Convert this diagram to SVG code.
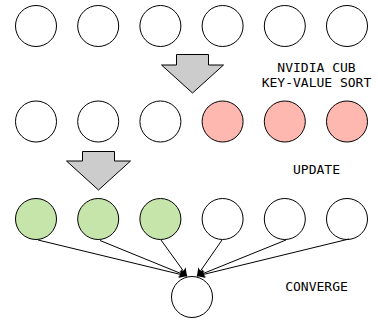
<svg xmlns="http://www.w3.org/2000/svg" width="378" height="322" viewBox="0 0 378 322">
<style>
.n{stroke:#000;stroke-width:1;fill:#fff}
.p{fill:#ffb8b0}
.g{fill:#c6e5ab}
.blk{fill:#cccccc;stroke:#000;stroke-width:1}
.t{font-family:"DejaVu Sans Mono",monospace;font-size:13px;fill:#000;text-anchor:middle}
.e{stroke:#000;stroke-width:1;fill:none;marker-end:url(#ah)}
</style>
<defs>
<marker id="ah" viewBox="0 0 10 10" refX="10" refY="5" markerWidth="9" markerHeight="8" markerUnits="userSpaceOnUse" orient="auto">
<path d="M0,0 L10,5 L0,10 L2.5,5 z" fill="#000"/>
</marker>
</defs>
<rect width="378" height="322" fill="#fff"/>
<g id="row1">
<circle id="a1" class="n" cx="36" cy="26" r="20.5"/>
<circle id="a2" class="n" cx="98.2" cy="26" r="20.5"/>
<circle id="a3" class="n" cx="160.4" cy="26" r="20.5"/>
<circle id="a4" class="n" cx="222.6" cy="26" r="20.5"/>
<circle id="a5" class="n" cx="284.8" cy="26" r="20.5"/>
<circle id="a6" class="n" cx="347" cy="26" r="20.5"/>
</g>
<g id="row2">
<circle id="b1" class="n" cx="36" cy="121.5" r="20.5"/>
<circle id="b2" class="n" cx="98.2" cy="121.5" r="20.5"/>
<circle id="b3" class="n" cx="160.4" cy="121.5" r="20.5"/>
<circle id="b4" class="n p" cx="222.6" cy="121.5" r="20.5"/>
<circle id="b5" class="n p" cx="284.8" cy="121.5" r="20.5"/>
<circle id="b6" class="n p" cx="347" cy="121.5" r="20.5"/>
</g>
<g id="row3">
<circle id="c1" class="n g" cx="36" cy="219" r="20.5"/>
<circle id="c2" class="n g" cx="98.2" cy="219" r="20.5"/>
<circle id="c3" class="n g" cx="160.4" cy="219" r="20.5"/>
<circle id="c4" class="n" cx="222.6" cy="219" r="20.5"/>
<circle id="c5" class="n" cx="284.8" cy="219" r="20.5"/>
<circle id="c6" class="n" cx="347" cy="219" r="20.5"/>
</g>
<g id="result">
<circle id="d1" class="n" cx="192" cy="297" r="20.5"/>
</g>
<g id="sort-arrow">
<polygon class="blk" points="176.5,54.5 208.5,54.5 208.5,65 223.5,65 192.5,93 161.5,65 176.5,65"/>
</g>
<g id="update-arrow">
<polygon class="blk" points="82.5,151.5 114.5,151.5 114.5,161 130.5,161 98.5,190 66.5,161 82.5,161"/>
</g>
<g id="connectors">
<line class="e" x1="38" y1="240" x2="187" y2="276"/>
<line class="e" x1="100" y1="240.5" x2="187" y2="276"/>
<line class="e" x1="161" y1="240" x2="187" y2="276"/>
<line class="e" x1="222" y1="240" x2="197" y2="276"/>
<line class="e" x1="286" y1="240" x2="197" y2="276"/>
<line class="e" x1="349" y1="239" x2="197" y2="276"/>
</g>
<g id="labels">
<text class="t" x="316.5" y="72">NVIDIA CUB</text>
<text class="t" x="316.5" y="86.5">KEY-VALUE SORT</text>
<text class="t" x="316.5" y="174">UPDATE</text>
<text class="t" x="316.5" y="290.5">CONVERGE</text>
</g>
</svg>
